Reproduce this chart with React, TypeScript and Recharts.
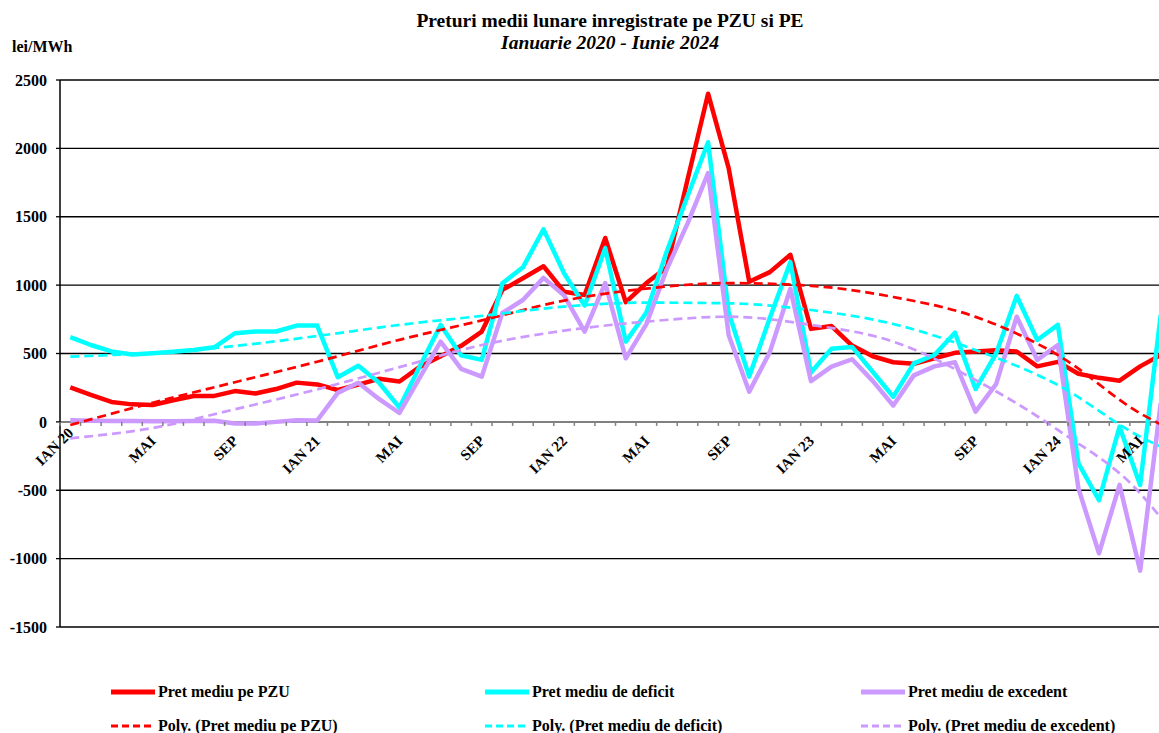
import React from "react";
import {
    LineChart,
    Line,
    XAxis,
    YAxis,
    CartesianGrid,
    ReferenceLine,
    ReferenceDot,
} from "recharts";

// luni ianuarie 2020 - iunie 2024
const monthNames = ["IAN", "FEB", "MAR", "APR", "MAI", "IUN", "IUL", "AUG", "SEP", "OCT", "NOI", "DEC"];
const categories: string[] = [];
for (let y = 20; y <= 24; y++) {
    for (const m of monthNames) {
        categories.push(`${m} ${y}`);
    }
}
const months = categories.slice(0, 54);

// etichete pe axa X, din 4 in 4 luni
const tickLabels = ["IAN 20", "MAI", "SEP", "IAN 21", "MAI", "SEP", "IAN 22", "MAI", "SEP", "IAN 23", "MAI", "SEP", "IAN 24", "MAI"];

const yTicks = [-1500, -1000, -500, 0, 500, 1000, 1500, 2000, 2500];

const seriesNames = ["Pret mediu pe PZU", "Pret mediu de deficit", "Pret mediu de excedent"];

const pzu = [
    253, 197, 146, 128, 123, 158, 189, 190, 225, 207, 240, 287,
    274, 233, 272, 315, 295, 404, 480, 556, 660, 965, 1050, 1138,
    952, 928, 1345, 875, 1015, 1130, 1770, 2400, 1855, 1025, 1095, 1222,
    680, 701, 558, 480, 436, 425, 465, 505, 514, 523, 514, 406,
    439, 352, 322, 301, 406, 489,
];

const deficit = [
    620, 562, 515, 493, 502, 513, 525, 545, 648, 661, 661, 704,
    704, 327, 410, 288, 105, 410, 709, 486, 453, 1013, 1130, 1408,
    1087, 850, 1270, 587, 800, 1250, 1650, 2045, 800, 331, 760, 1168,
    361, 535, 548, 367, 184, 428, 489, 652, 240, 500, 921, 599,
    709, -303, -573, -35, -461, 782,
];

const excedent = [
    12, 8, 7, 7, 5, 4, 6, 8, -12, -12, 0, 12,
    10, 212, 286, 168, 65, 328, 587, 388, 331, 797, 891, 1053,
    925, 660, 1015, 465, 715, 1120, 1450, 1820, 636, 221, 510, 973,
    298, 404, 458, 300, 120, 340, 406, 436, 75, 276, 769, 453,
    562, -486, -961, -461, -1088, 136,
];

// liniile de tendinta (Poly.), citite din grafic la lunile de mai jos
const trendMonths = [0, 4, 8, 12, 16, 20, 24, 28, 32, 36, 40, 44, 48, 52, 53];
const pzuTrend = [-23, 140, 290, 440, 600, 742, 887, 975, 1015, 995, 913, 768, 489, 63, -18];
const deficitTrend = [477, 505, 555, 628, 709, 775, 843, 872, 867, 818, 716, 526, 270, -108, -181];
const excedentTrend = [-120, -45, 92, 238, 400, 562, 667, 733, 769, 709, 587, 306, -59, -522, -700];

const colors = ["#FF0000", "#00FFFF", "#CC99FF"];

const data = months.map((month, i) => {
    const t = trendMonths.indexOf(i);
    return {
        idx: i,
        month,
        pzu: pzu[i],
        deficit: deficit[i],
        excedent: excedent[i],
        pzuTrend: t >= 0 ? pzuTrend[t] : null,
        deficitTrend: t >= 0 ? deficitTrend[t] : null,
        excedentTrend: t >= 0 ? excedentTrend[t] : null,
    };
});

const boundaries = Array.from({ length: months.length + 1 }, (_, k) => k - 0.5);

const FONT = "'Liberation Serif', 'Times New Roman', serif";

const legendCols = [111, 485, 861];
const legendRows = [692, 726];

export default function App() {
    return (
        <div
            style={{
                position: "absolute",
                left: 0,
                top: 0,
                width: 1159,
                height: 733,
                overflow: "hidden",
                background: "#fff",
            }}
        >
            <LineChart
                width={1180}
                height={733}
                data={data}
                margin={{ top: 80, right: 9, bottom: 106, left: 0 }}
            >
                <CartesianGrid vertical={false} stroke="#000" strokeWidth={1.3} />
                <XAxis type="number" dataKey="idx" domain={[-0.5, 53.5]} hide />
                <YAxis
                    domain={[-1500, 2500]}
                    ticks={yTicks}
                    interval={0}
                    width={60}
                    tickSize={4}
                    tickMargin={9}
                    axisLine={{ stroke: "#000", strokeWidth: 1.5 }}
                    tickLine={{ stroke: "#000", strokeWidth: 1.3 }}
                    tick={{ fill: "#000", fontSize: 16, fontWeight: "bold", fontFamily: FONT }}
                />
                <ReferenceLine y={0} stroke="#808080" strokeWidth={2} />
                {boundaries.map((b) => (
                    <ReferenceDot
                        key={`t${b}`}
                        x={b}
                        y={0}
                        r={0}
                        shape={(p: any) => (
                            <line
                                x1={p.cx}
                                x2={p.cx}
                                y1={p.cy}
                                y2={p.cy + 4}
                                stroke="#808080"
                                strokeWidth={1.5}
                            />
                        )}
                    />
                ))}
                {tickLabels.map((label, k) => (
                    <ReferenceDot
                        key={`l${k}`}
                        x={k * 4}
                        y={0}
                        r={0}
                        shape={(p: any) => {
                            const ax = p.cx + 4;
                            const ay = p.cy + (k === 0 ? 12 : 20);
                            return (
                                <text
                                    x={ax}
                                    y={ay}
                                    transform={`rotate(-45 ${ax} ${ay})`}
                                    textAnchor="end"
                                    fontFamily={FONT}
                                    fontWeight="bold"
                                    fontSize={15}
                                    fill="#000"
                                >
                                    {label}
                                </text>
                            );
                        }}
                    />
                ))}
                <Line
                    dataKey="pzu"
                    stroke={colors[0]}
                    strokeWidth={4.5}
                    dot={false}
                    strokeLinejoin="round"
                    isAnimationActive={false}
                />
                <Line
                    dataKey="deficit"
                    stroke={colors[1]}
                    strokeWidth={4.5}
                    dot={false}
                    strokeLinejoin="round"
                    isAnimationActive={false}
                />
                <Line
                    dataKey="excedent"
                    stroke={colors[2]}
                    strokeWidth={4.5}
                    dot={false}
                    strokeLinejoin="round"
                    isAnimationActive={false}
                />
                <Line
                    dataKey="pzuTrend"
                    type="monotone"
                    connectNulls
                    stroke={colors[0]}
                    strokeWidth={2.7}
                    strokeDasharray="9 5"
                    dot={false}
                    isAnimationActive={false}
                />
                <Line
                    dataKey="deficitTrend"
                    type="monotone"
                    connectNulls
                    stroke={colors[1]}
                    strokeWidth={2.7}
                    strokeDasharray="9 5"
                    dot={false}
                    isAnimationActive={false}
                />
                <Line
                    dataKey="excedentTrend"
                    type="monotone"
                    connectNulls
                    stroke={colors[2]}
                    strokeWidth={2.7}
                    strokeDasharray="9 5"
                    dot={false}
                    isAnimationActive={false}
                />
            </LineChart>

            <svg
                width={1159}
                height={733}
                style={{ position: "absolute", left: 0, top: 0, pointerEvents: "none" }}
                fontFamily={FONT}
                fontWeight="bold"
            >
                <text x={610} y={27} textAnchor="middle" fontSize={19.5}>
                    Preturi medii lunare inregistrate pe PZU si PE
                </text>
                <text x={610} y={49} textAnchor="middle" fontSize={19.5} fontStyle="italic">
                    Ianuarie 2020 - Iunie 2024
                </text>
                <text x={12} y={52} fontSize={16}>
                    lei/MWh
                </text>

                {seriesNames.map((name, k) => (
                    <g key={name}>
                        <line
                            x1={legendCols[k]}
                            x2={legendCols[k] + 44}
                            y1={legendRows[0]}
                            y2={legendRows[0]}
                            stroke={colors[k]}
                            strokeWidth={5}
                        />
                        <text x={legendCols[k] + 47} y={legendRows[0] + 5} fontSize={16}>
                            {name}
                        </text>
                        <line
                            x1={legendCols[k]}
                            x2={legendCols[k] + 44}
                            y1={legendRows[1]}
                            y2={legendRows[1]}
                            stroke={colors[k]}
                            strokeWidth={3}
                            strokeDasharray="7 4"
                        />
                        <text x={legendCols[k] + 47} y={legendRows[1] + 5} fontSize={16}>
                            {`Poly. (${name})`}
                        </text>
                    </g>
                ))}
            </svg>
        </div>
    );
}
